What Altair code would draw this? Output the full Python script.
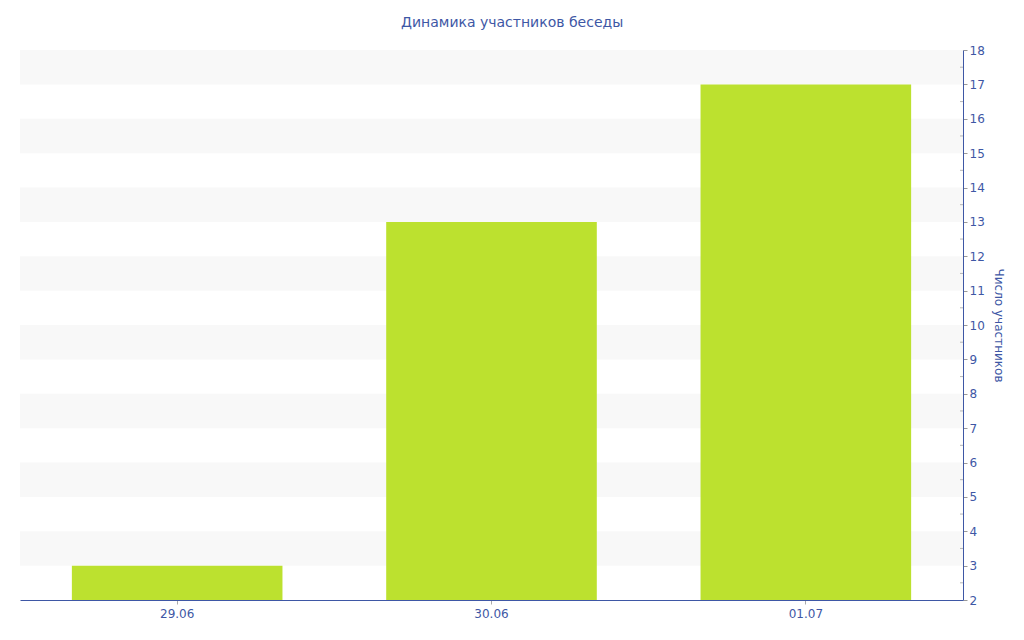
import altair as alt
import pandas as pd

dates = ["29.06", "30.06", "01.07"]
members = [3, 13, 17]
band_lo = [3, 5, 7, 9, 11, 13, 15, 17]
band_hi = [4, 6, 8, 10, 12, 14, 16, 18]
minor_ticks = [2.5 + i for i in range(16)]

BLUE = "#3e57a5"
FONT = "DejaVu Sans"

bars_df = pd.DataFrame({"date": dates, "n": members})
bands_df = pd.DataFrame({"lo": band_lo, "hi": band_hi})
minor_df = pd.DataFrame({"v": minor_ticks})

yscale = alt.Scale(domain=[2, 18], zero=False, nice=False)
yaxis = alt.Axis(
    orient="right", values=list(range(2, 19)), title="Число участников",
    titleColor=BLUE, titleFont=FONT, titleFontSize=12, titleFontWeight="normal",
    titleAngle=90, titlePadding=7, labelOverlap=False,
    labelColor=BLUE, labelFont=FONT, labelFontSize=12, labelPadding=2,
    domainColor=BLUE, tickColor="#999999", tickSize=4, grid=False,
)

bands = alt.Chart(bands_df).mark_rect(color="#f8f8f8").encode(
    y=alt.Y("lo:Q", scale=yscale, axis=yaxis),
    y2="hi:Q",
    x=alt.value(0),
    x2=alt.value(943),
)

bars = alt.Chart(bars_df).mark_bar(color="#bce12f").encode(
    x=alt.X(
        "date:N",
        sort=dates,
        scale=alt.Scale(paddingInner=0.33),
        axis=alt.Axis(
            title=None, labelAngle=0, labelColor=BLUE, labelFont=FONT, labelFontSize=12,
            domainColor=BLUE, tickColor="#aaaaaa", tickSize=4, labelPadding=4,
        ),
    ),
    y=alt.Y("n:Q", scale=yscale, axis=yaxis),
    y2=alt.datum(2),
)

minor = alt.Chart(minor_df).mark_tick(color="#999999", size=3, thickness=1, orient="horizontal").encode(
    y=alt.Y("v:Q", scale=yscale, axis=yaxis),
    x=alt.value(941.5),
)

chart = alt.layer(bands, bars, minor).properties(
    width=943,
    height=550,
    padding={"left": 12, "top": 42, "right": 53, "bottom": 32},
    autosize=alt.AutoSizeParams(type="none"),
    background="white",
    title=alt.TitleParams(
        "Динамика участников беседы", font=FONT, fontSize=14, fontWeight="normal",
        color=BLUE, anchor="middle", frame="bounds", offset=14,
    ),
).configure_view(stroke="transparent", strokeWidth=0)

chart.save("out.html", embed_options={"renderer": "svg", "actions": False})
